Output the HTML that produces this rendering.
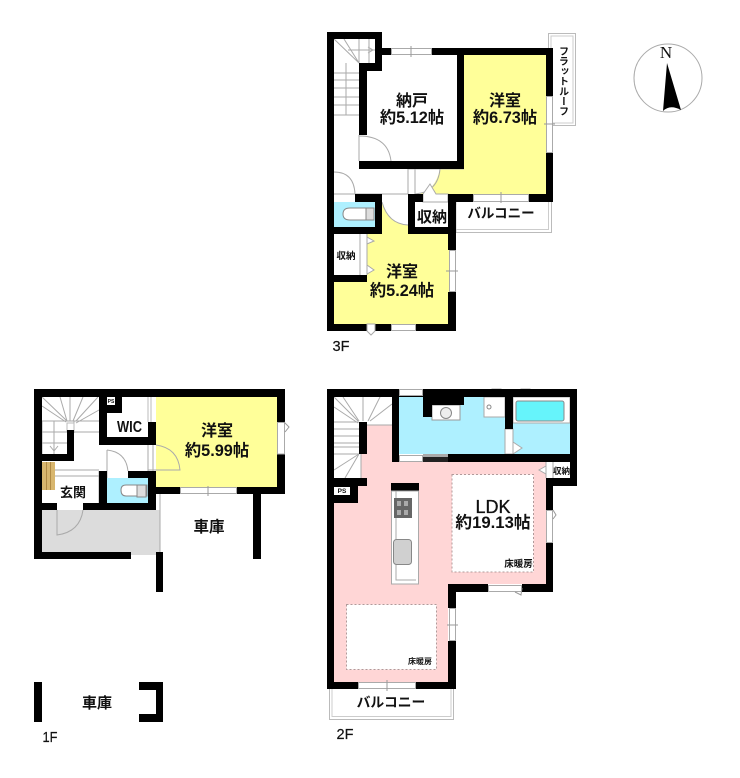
<!DOCTYPE html>
<html><head><meta charset="utf-8"><style>
html,body{margin:0;padding:0;background:#fff}
svg{display:block}
text{font-family:"Liberation Sans","Noto Sans CJK JP",sans-serif;font-weight:700;fill:#111;text-anchor:middle}
.g{stroke:#999;stroke-width:1;fill:none}
.t{stroke:#aaa;stroke-width:1;fill:none}
.w{fill:#fff;stroke:#aaa;stroke-width:1}
.k{fill:#000}
</style></head><body>
<svg width="740" height="778" viewBox="0 0 740 778" xmlns="http://www.w3.org/2000/svg">
<rect width="740" height="778" fill="#fff"/>

<!-- ===== 3F ===== -->
<rect x="548.5" y="33.5" width="27" height="92" fill="#fff" stroke="#bbb"/>
<rect x="551" y="36" width="22" height="87" fill="none" stroke="#ccc"/>
<path d="M456 202V232.500H551.500V202" fill="none" stroke="#bbb"/>
<path d="M456 205V229.500H548.500V202" fill="none" stroke="#ccc"/>
<!-- fills -->
<path d="M464 55H546V194H420Q435 190 440 169H464Z" fill="#ffff99"/>
<path d="M382 227V202H408V234H456V324H334V282H367V234H382Z" fill="#ffff99"/>
<path d="M382 202H408V225Q388 224 382 202Z" fill="#fff"/>
<rect x="334" y="202" width="41" height="25" fill="#aef0ff"/>
<!-- stairs 3F -->
<g class="t">
<path d="M334 73H359M334 80H359M334 88H359M334 97H359M334 105H359M334 115H359"/>
<path d="M334 39L359 63M344 39L359 63M346 63V115M359 39V63M369 39V63"/>
<path d="M348 50H375M368 47L373 50L368 53"/>
<path d="M359 135V161M359 136Q388 136 391 161"/>
<path d="M334 172Q354 172 355 194M334 194H408"/>
<path d="M408 169V194M415 169V194M415 194Q438 192 440 169"/>
<path d="M382 202Q388 224 408 225"/>
<path d="M408 169H464" stroke="#bbb"/>
</g>
<!-- toilet 3F -->
<path d="M350 208H374V220H350Q343 220 343 214Q343 208 350 208Z" fill="#fff" stroke="#888"/>
<rect x="366" y="208" width="8" height="12" fill="#ddd" stroke="#888"/>
<!-- closet 3F -->
<rect x="334" y="234" width="33" height="41" fill="#fff"/>
<path class="t" d="M360 234V275M367 234V275"/>
<path class="w" d="M367 237L374 241L367 244ZM367 265L374 270L367 274Z"/>
<path class="w" d="M436 194H448V202H423V194L430 184L436 194Z" stroke="#999"/>
<!-- walls 3F -->
<g class="k">
<rect x="327" y="32" width="7" height="299"/><rect x="327" y="32" width="55" height="7"/>
<rect x="375" y="32" width="7" height="39"/><rect x="359" y="63" width="23" height="8"/>
<rect x="359" y="63" width="8" height="72"/><rect x="382" y="48" width="9" height="7"/>
<rect x="432" y="48" width="121" height="7"/><rect x="546" y="48" width="7" height="48"/>
<rect x="546" y="153" width="7" height="49"/><rect x="457" y="55" width="7" height="114"/>
<rect x="359" y="161" width="105" height="8"/>
<rect x="449" y="194" width="24" height="8"/><rect x="529" y="194" width="24" height="8"/>
<rect x="448" y="194" width="8" height="56"/><rect x="448" y="292" width="8" height="39"/>
<rect x="408" y="194" width="7" height="40"/><rect x="408" y="194" width="15" height="8"/>
<rect x="408" y="227" width="48" height="7"/>
<rect x="355" y="194" width="27" height="8"/><rect x="375" y="194" width="7" height="40"/>
<rect x="327" y="227" width="55" height="7"/><rect x="327" y="275" width="40" height="7"/>
<rect x="327" y="324" width="40" height="7"/><rect x="375" y="324" width="16" height="7"/>
<rect x="416" y="324" width="40" height="7"/>
</g>
<!-- windows 3F -->
<rect class="w" x="391.500" y="48.500" width="40" height="6"/><path class="g" d="M411 46V57"/>
<rect class="w" x="546.500" y="96.500" width="6" height="56"/><path class="g" d="M544 124H555"/>
<rect class="w" x="473.500" y="194.500" width="55" height="7"/><path class="g" d="M501 192V203"/>
<rect class="w" x="449.500" y="250.500" width="6" height="41"/><path class="g" d="M446 271H458"/>
<rect class="w" x="391.500" y="324.500" width="24" height="6"/>
<path class="w" d="M367 324H375V331L371 335L367 331Z"/>

<!-- ===== 1F ===== -->
<rect x="156" y="397" width="121" height="90" fill="#ffff99"/>
<rect x="42" y="510" width="118" height="42" fill="#dcdcdc"/>
<rect x="131" y="552" width="29" height="3" fill="#dcdcdc"/>
<path d="M160 494V552" stroke="#aaa" fill="none"/>
<rect x="107" y="478" width="41" height="25" fill="#aef0ff"/>
<!-- shoe rack -->
<rect x="42" y="462" width="13" height="28" fill="#d8b66e"/>
<path d="M46.500 462V490M50.500 462V490" stroke="#b08a45" fill="none"/>
<!-- stairs 1F -->
<g class="t">
<path d="M42 397L67 421M60 397L67 421M70 397V421M83 397L73 421M98 397L76 421M42 406L66 422M99 410L76 423"/>
<path d="M42 421H99M42 432H67M42 443H67M74 432H99M42 421V454M54 421V454M74 421V433"/>
<path d="M54 446V451M50 446L54 451L58 446"/>
<path d="M55 470H99M55 476H99M107 478V471M99 471V503"/>
</g>
<rect x="67" y="423" width="7" height="8" fill="#fff" stroke="#bbb"/>
<!-- WIC/door 1F -->
<g class="t">
<path d="M148 397V422M151 397V422" stroke="#bbb"/>
<path d="M148 445V471M153 445V471"/>
<path d="M156 445Q178 448 180 470H156"/>
<path d="M107 450V471M107 450Q126 452 128 471"/>
<path d="M57 510V535Q80 532 83 510"/>
<path d="M148 470H156"/>
</g>
<!-- toilet 1F -->
<path d="M126 485H147V496H126Q121 496 121 490Q121 485 126 485Z" fill="#fff" stroke="#888"/>
<rect x="137" y="485" width="9" height="12" fill="#ddd" stroke="#888"/>
<!-- walls 1F -->
<g class="k">
<rect x="34" y="389" width="251" height="8"/><rect x="34" y="389" width="8" height="170"/>
<rect x="34" y="552" width="97" height="7"/>
<rect x="277" y="389" width="8" height="33"/><rect x="277" y="454" width="8" height="40"/>
<rect x="154" y="487" width="26" height="7"/><rect x="237" y="487" width="48" height="7"/>
<rect x="253" y="494" width="8" height="65"/><rect x="156" y="552" width="7" height="40"/>
<rect x="148" y="422" width="8" height="23"/><rect x="99" y="389" width="8" height="56"/>
<rect x="99" y="437" width="57" height="8"/><rect x="115" y="397" width="7" height="16"/>
<rect x="107" y="405" width="15" height="8"/>
<rect x="67" y="430" width="7" height="31"/><rect x="42" y="454" width="32" height="7"/>
<rect x="99" y="471" width="8" height="39"/><rect x="128" y="471" width="28" height="7"/>
<rect x="148" y="471" width="8" height="39"/><rect x="83" y="503" width="73" height="7"/>
<rect x="42" y="503" width="15" height="7"/>
<rect x="34" y="682" width="8" height="40"/>
<path d="M139 682H163V722H139V714H156V690H139Z"/>
</g>
<rect class="w" x="180.500" y="487.500" width="56" height="6"/><path class="g" d="M208 486V496"/>
<path class="w" d="M277.500 422.500H284.500V454H277.500Z"/><path class="g" d="M284 422L289 427L285 432"/>
<rect x="107" y="397" width="8" height="8" fill="#fff"/>

<!-- ===== 2F ===== -->
<path d="M329.500 689V719.500H453.500V689" fill="none" stroke="#bbb"/>
<path d="M332 689V716.500H451V689" fill="none" stroke="#ccc"/>
<path d="M367 425H392V462H546V584H448V682H334V503H358V486H361V454H367Z" fill="#ffd6d6"/>
<rect x="399" y="397" width="106" height="57" fill="#aef0ff"/>
<rect x="513" y="397" width="57" height="57" fill="#aef0ff"/>
<!-- stairs 2F -->
<g class="t">
<path d="M334 397L358 421M343 397L359 421M363 397V421M380 397L368 421M392 404L370 421M334 407L358 423"/>
<path d="M334 422H359M334 429H359M334 436H359M334 443H359M334 447H359M334 454H359"/>
<path d="M359 454L334 470M359 454L345 478M361 454V478M363 425H392"/>
</g>
<!-- bath rooms -->
<rect x="432" y="405" width="28" height="15" fill="#fff" stroke="#999"/>
<circle cx="446" cy="413" r="5.500" fill="#eee" stroke="#888"/>
<rect x="484" y="397" width="21" height="20" fill="#fff" stroke="#aaa"/>
<circle cx="489" cy="407" r="2" fill="#fff" stroke="#888"/>
<rect x="513" y="397" width="57" height="26" fill="#fff" stroke="#aaa"/>
<rect x="516" y="401" width="48" height="20" rx="2" fill="#66f4fb" stroke="#888"/>
<rect x="505" y="429" width="8" height="25" fill="#fff" stroke="#aaa"/>
<path class="w" d="M513 442L522 448L513 454Z"/>
<path class="w" d="M492 389H501V394L496 397L492 394ZM521 389H530V394L525 397L521 394Z"/>
<!-- walls 2F -->
<g class="k">
<rect x="327" y="389" width="250" height="8"/><rect x="327" y="389" width="7" height="300"/>
<rect x="570" y="389" width="7" height="97"/><rect x="546" y="478" width="31" height="8"/>
<rect x="546" y="478" width="7" height="32"/><rect x="546" y="543" width="7" height="49"/>
<rect x="448" y="584" width="40" height="8"/><rect x="522" y="584" width="31" height="8"/>
<rect x="448" y="584" width="8" height="24"/><rect x="448" y="641" width="8" height="48"/>
<rect x="327" y="682" width="31" height="7"/><rect x="416" y="682" width="40" height="7"/>
<rect x="392" y="389" width="7" height="73"/>
<rect x="423" y="389" width="9" height="28"/><rect x="423" y="389" width="41" height="16"/>
<rect x="505" y="397" width="8" height="32"/><rect x="448" y="454" width="122" height="8"/>
<rect x="359" y="422" width="8" height="32"/>
<rect x="334" y="478" width="33" height="8"/><rect x="334" y="486" width="24" height="17"/>
<rect x="391" y="483" width="28" height="8"/>
</g>
<rect x="423" y="454" width="25" height="8" fill="#222"/>
<rect x="423" y="454" width="25" height="3" fill="#aaa"/>
<rect class="w" x="399.500" y="389.500" width="23" height="6"/>
<rect class="w" x="399.500" y="455.500" width="23" height="6"/>
<rect x="334" y="487" width="16" height="8" fill="#fff"/>
<!-- closet 2F -->
<rect x="546" y="462" width="24" height="16" fill="#fff"/>
<path class="t" d="M546 462V478M553 462V478"/>
<path class="w" d="M546 466L539 470L546 474Z"/>
<!-- kitchen -->
<rect x="391.500" y="491" width="27" height="93" fill="#fff" stroke="#aaa"/>
<path class="t" d="M396 491V580H416"/>
<rect x="394" y="498" width="18" height="20" fill="#666"/>
<path d="M397 501h4v5h-4zM404 501h4v5h-4zM397 510h4v5h-4zM404 510h4v5h-4z" fill="#aaa"/>
<rect x="393.500" y="539.500" width="18" height="25" rx="3" fill="#d0d0d0" stroke="#888"/>
<!-- floor heating -->
<rect x="452" y="474.500" width="81.500" height="97.500" fill="#fff" stroke="#b09a9a" stroke-dasharray="2 2"/>
<rect x="346.500" y="604.500" width="90" height="65" fill="#fff" stroke="#b09a9a" stroke-dasharray="2 2"/>
<!-- windows 2F -->
<rect class="w" x="546.500" y="510.500" width="6" height="32"/><path class="g" d="M553 510L556 515L553 519"/>
<rect class="w" x="488.500" y="585.500" width="33" height="6"/><path class="g" d="M515 592L521 595L522 588"/>
<rect class="w" x="449.500" y="608.500" width="6" height="32"/><path class="g" d="M447 625H458"/>
<rect class="w" x="358.500" y="682.500" width="57" height="6"/><path class="g" d="M387 680V691"/>

<!-- ===== Compass ===== -->
<circle cx="668" cy="78" r="34" fill="#fff" stroke="#aaa" stroke-width="1"/>
<path d="M667 63L681 110Q670 104 663 111Z" fill="#000"/>
<text x="666" y="58" font-size="17" style="font-family:'Liberation Serif',serif;font-weight:400">N</text>

<!-- ===== Labels ===== -->
<text x="412" y="106" font-size="16">納戸</text>
<text x="412" y="123" font-size="16.300">約5.12帖</text>
<text x="505" y="106" font-size="16">洋室</text>
<text x="505" y="123" font-size="16.300">約6.73帖</text>
<text x="402" y="277" font-size="16">洋室</text>
<text x="402" y="296" font-size="16.300">約5.24帖</text>
<text x="432" y="222" font-size="15">収納</text>
<text x="346" y="259" font-size="9.500">収納</text>
<text x="501" y="218" font-size="13.500">バルコニー</text>
<text x="562" y="46" font-size="10" style="writing-mode:vertical-rl;text-anchor:start">フラットルーフ</text>
<text x="341" y="351" font-size="15" textLength="17" lengthAdjust="spacingAndGlyphs" style="stroke:#111;stroke-width:.2;font-weight:400">3F</text>

<text x="217" y="436" font-size="16">洋室</text>
<text x="217" y="456" font-size="16.300">約5.99帖</text>
<text x="129.500" y="432" font-size="16" textLength="25" lengthAdjust="spacingAndGlyphs">WIC</text>
<text x="73" y="497" font-size="13">玄関</text>
<text x="209" y="532" font-size="15.500">車庫</text>
<text x="111" y="403" font-size="5">PS</text>
<text x="97" y="708" font-size="15">車庫</text>
<text x="50" y="742" font-size="15" textLength="15" lengthAdjust="spacingAndGlyphs" style="stroke:#111;stroke-width:.2;font-weight:400">1F</text>

<text x="493" y="513" font-size="18" style="font-weight:400;stroke:#111;stroke-width:.3">LDK</text>
<text x="493" y="528" font-size="16.700">約19.13帖</text>
<text x="518.500" y="567" font-size="9.500">床暖房</text>
<text x="420" y="664" font-size="8">床暖房</text>
<text x="561.500" y="474" font-size="8.500">収納</text>
<text x="342" y="493" font-size="6.500">PS</text>
<text x="391" y="707" font-size="13.800">バルコニー</text>
<text x="345" y="739" font-size="15" textLength="17" lengthAdjust="spacingAndGlyphs" style="stroke:#111;stroke-width:.2;font-weight:400">2F</text>
</svg>
</body></html>
